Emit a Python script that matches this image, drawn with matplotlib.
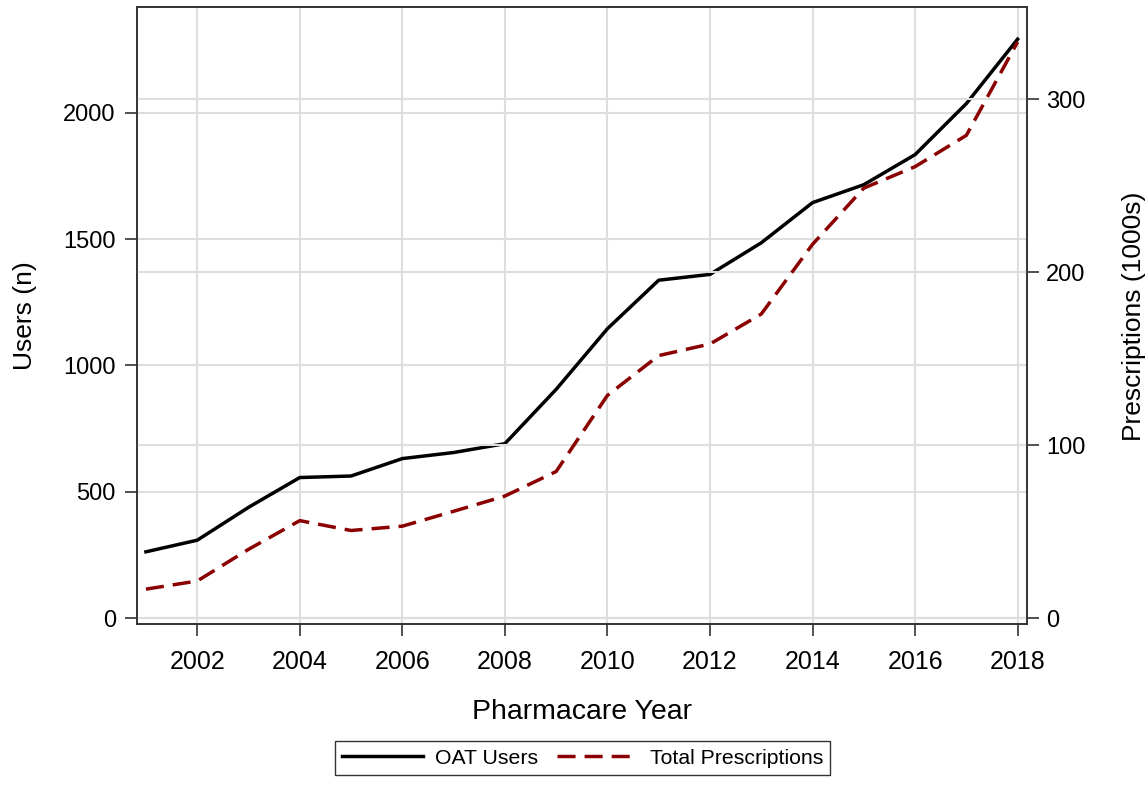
import matplotlib.pyplot as plt
import numpy as np

plt.rcParams['font.family'] = ['Liberation Sans', 'DejaVu Sans']

# values
years = list(range(2001, 2019))
oat_users = [262, 308, 438, 556, 562, 631, 655, 690, 905, 1145,
             1337, 1360, 1485, 1644, 1715, 1834, 2036, 2291]
prescriptions = [16.7, 21.4, 39.7, 56.3, 50.6, 53.1, 61.7, 70.5, 84.7, 128.7,
                 151.7, 158.4, 175.7, 216, 248.5, 260.9, 279, 333]
x_ticks = list(range(2002, 2019, 2))
left_ticks = [0, 500, 1000, 1500, 2000]
right_ticks = [0, 100, 200, 300]

fig = plt.figure(figsize=(11.47, 7.88), dpi=100)
ax = fig.add_axes([0.1192, 0.2077, 0.7765, 0.783])
ax2 = ax.twinx()

grid_col = "#dedede"
for y in left_ticks:
    ax.axhline(y, color=grid_col, lw=1.5, zorder=0)
for y in right_ticks:
    ax2.axhline(y, color=grid_col, lw=1.5, zorder=0)
for x in x_ticks:
    ax.axvline(x, color=grid_col, lw=1.5, zorder=0)

l1, = ax.plot(years, oat_users, color="black", lw=2.5, label="OAT Users", zorder=3)
l2, = ax2.plot(years, prescriptions, color="#8b0000", lw=2.5, dashes=(5.2, 2.6),
               label="Total Prescriptions", zorder=3)

ax.set_xlim(2000.82, 2018.19)
ax.set_ylim(-25, 2417)
ax2.set_ylim(-3.64, 353)
ax.set_xticks(x_ticks)
ax.set_yticks(left_ticks)
ax2.set_yticks(right_ticks)

for a in (ax, ax2):
    a.tick_params(length=8.6, width=1.2, color="#333333")
    for s in a.spines.values():
        s.set_color("#333333")
        s.set_linewidth(1.2)
ax.tick_params(axis="x", labelsize=18, pad=10)
ax.tick_params(axis="y", labelsize=17, pad=6.5)
ax2.tick_params(axis="y", labelsize=17, pad=5)

ax.set_xlabel("Pharmacare Year", fontsize=20.5, labelpad=18)
ax.set_ylabel("Users (n)", fontsize=19, labelpad=19)
ax2.set_ylabel("Prescriptions (1000s)", fontsize=19, labelpad=26)

leg = fig.legend(handles=[l1, l2], loc="center", bbox_to_anchor=(0.508, 0.038),
                 ncol=2, fontsize=15.3, frameon=True, fancybox=False,
                 handlelength=3.8, columnspacing=0.9, borderpad=0.35,
                 handletextpad=0.55, borderaxespad=0)
leg.get_frame().set_edgecolor("black")
leg.get_frame().set_linewidth(1.0)

fig.savefig("out.png", dpi=100)
